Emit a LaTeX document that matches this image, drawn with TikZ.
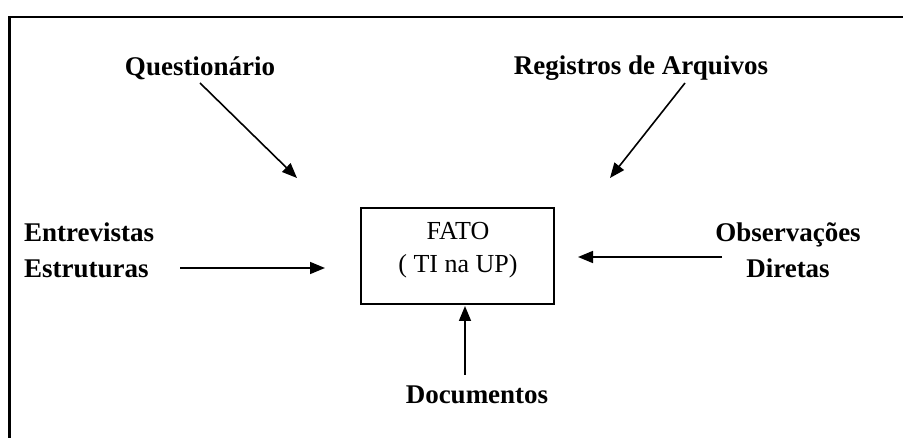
\documentclass[tikz,border=0pt]{standalone}
\usepackage{fontspec}
\setmainfont{Liberation Serif}
\usetikzlibrary{arrows.meta}
\begin{document}
\begin{tikzpicture}[x=1pt,y=-1pt,
  lbl/.style={inner sep=0pt,font=\fontsize{27}{36}\selectfont\bfseries},
  conn/.style={line width=1.6pt,-{Triangle[length=15pt,width=12pt]}},
  framebox/.style={draw,line width=2pt,minimum width=193pt,minimum height=96pt,inner sep=0pt}]
\useasboundingbox (0,0) rectangle (903,438);
% outer frame (top and left sides only)
\draw[line width=2.6pt] (9.5,438) -- (9.5,17) -- (903,17);
% labels
\node[lbl] (quest) at (200,68) {Questionário};
\node[lbl] (regis) at (641,68) {Registros de Arquivos};
\node[lbl,align=left,anchor=west] (entre) at (24,250) {Entrevistas\\Estruturas};
\node[lbl,align=center] (obser) at (788,250) {Observações\\Diretas};
\node[lbl] (docum) at (477,395) {Documentos};
% central box
\node[framebox] (fato) at (457.5,256) {};
\node[inner sep=0pt,align=center,font=\fontsize{26}{33}\selectfont] (fatotext) at (458,250) {FATO\\( TI na UP)};
% arrow end points
\coordinate (qs) at (200,83);  \coordinate (qt) at (297,178);
\coordinate (rs) at (685,83);  \coordinate (rt) at (610,178);
\coordinate (es) at (180,268); \coordinate (et) at (325,268);
\coordinate (os) at (722,257); \coordinate (ot) at (578,257);
\coordinate (ds) at (465,375); \coordinate (dt) at (465,306);
\draw[conn] (qs) -- (qt);
\draw[conn] (rs) -- (rt);
\draw[conn] (es) -- (et);
\draw[conn] (os) -- (ot);
\draw[conn] (ds) -- (dt);
\end{tikzpicture}
\end{document}
